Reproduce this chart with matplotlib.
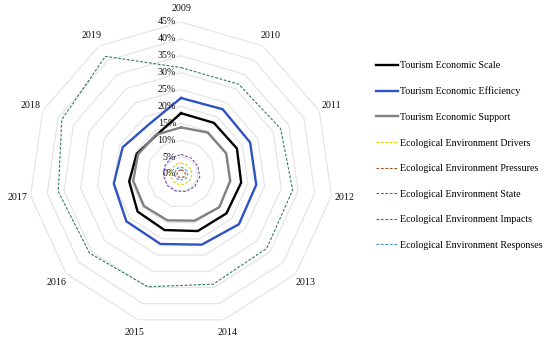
import numpy as np
import matplotlib
matplotlib.use("Agg")
import matplotlib.pyplot as plt

years = ['2009', '2010', '2011', '2012', '2013', '2014', '2015', '2016', '2017', '2018', '2019']
scale = [18.0, 18.0, 18.2, 18.0, 17.8, 17.6, 17.3, 17.0, 15.5, 14.4, 13.6]
efficiency = [22.5, 22.8, 22.5, 22.5, 22.7, 21.8, 21.6, 21.4, 20.1, 19.0, 17.5]
support = [13.8, 14.6, 14.7, 14.7, 15.0, 14.4, 14.3, 14.5, 14.3, 14.0, 13.8]
drivers = [3.3, 3.2, 3.3, 3.2, 3.3, 3.2, 3.2, 3.1, 3.2, 3.2, 3.3]
pressures = [1.2, 1.2, 1.3, 1.2, 1.2, 1.1, 1.1, 1.2, 1.2, 1.2, 1.2]
state = [31.5, 31.6, 32.4, 33.4, 33.6, 34.0, 34.8, 35.8, 36.7, 38.8, 41.4]
impacts = [5.8, 5.6, 5.5, 5.6, 5.5, 5.4, 5.3, 5.3, 5.2, 5.4, 5.6]
responses = [2.0, 1.9, 2.0, 1.9, 1.9, 1.8, 1.8, 1.9, 1.9, 1.9, 2.0]
ticks = [0, 5, 10, 15, 20, 25, 30, 35, 40, 45]

series = [
    ('Tourism Economic Scale', scale, '#000000', '-', 1.7),
    ('Tourism Economic Efficiency', efficiency, '#2C52C4', '-', 1.7),
    ('Tourism Economic Support', support, '#808080', '-', 1.7),
    ('Ecological Environment Drivers', drivers, '#E8D000', '--', 0.8),
    ('Ecological Environment Pressures', pressures, '#A0522D', '--', 0.8),
    ('Ecological Environment State', state, '#2E7D55', '--', 0.8),
    ('Ecological Environment Impacts', impacts, '#7A4CC0', '--', 0.8),
    ('Ecological Environment Responses', responses, '#4A90D9', '--', 0.8),
]

plt.rcParams['font.family'] = ['Liberation Serif', 'DejaVu Serif']

fig = plt.figure(figsize=(5.5, 3.46), dpi=100)
ax = fig.add_axes([29/550, 20/346, 304/550, 304/346], projection='polar')
ax.set_theta_zero_location('N')
ax.set_theta_direction(-1)
ax.set_ylim(0, 45)
ax.grid(False)
ax.spines['polar'].set_visible(False)
ax.set_xticks([])
ax.set_yticks([])
ax.patch.set_alpha(0)

n = len(years)
theta = np.linspace(0, 2 * np.pi, n, endpoint=False)
theta_c = np.append(theta, theta[0])

for t in ticks[1:]:
    ax.plot(theta_c, [t] * (n + 1), color='#E5E5E5', lw=0.9, zorder=1)

for label, vals, col, ls, lw in series:
    v = list(vals) + [vals[0]]
    if ls == '--':
        ax.plot(theta_c, v, color=col, lw=lw, ls=(0, (2.5, 1.5)), label=label, zorder=3)
    else:
        ax.plot(theta_c, v, color=col, lw=lw, ls=ls, label=label, zorder=4)

for t in ticks:
    ax.annotate(f'{t}%', xy=(0, t), xytext=(-3.6, 0), textcoords='offset points',
                ha='right', va='center', fontsize=7.2, color='#111111', zorder=6)

for th, y in zip(theta, years):
    ax.text(th, 48.9, y, ha='center', va='center', fontsize=7.2, color='#111111')

fig.legend(loc='upper left', bbox_to_anchor=(376/550, 1 - 61/346), frameon=False,
           fontsize=7.2, labelspacing=1.66, handlelength=2.2, handletextpad=0.25,
           borderpad=0, borderaxespad=0)

fig.savefig('out.png', dpi=100)
